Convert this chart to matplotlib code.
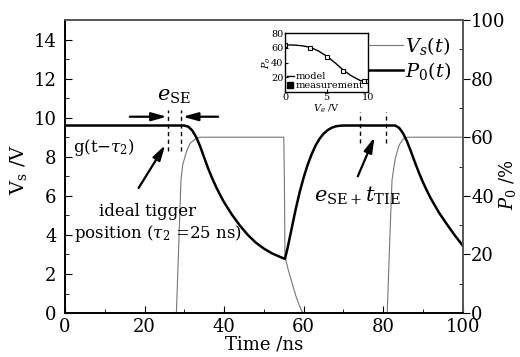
import numpy as np
import matplotlib
matplotlib.use('Agg')
import matplotlib.pyplot as plt

plt.rcParams['font.family'] = ['DejaVu Serif']
plt.rcParams['mathtext.fontset'] = 'dejavuserif'

# Vs(t) trace, volts
t_vs = [0, 28, 28.6, 29.15, 29.6, 30.6, 31.5, 33, 34, 55, 55.15, 55.3, 56, 57, 58, 58.7, 59.5, 60,
        81, 81.6, 82.2, 83, 84, 85, 86, 100]
vs = [0, 0, 3.5, 6.8, 7.6, 8.3, 8.7, 8.95, 9.0, 9.0, 6.8, 2.9, 2.3, 1.6, 0.9, 0.5, 0.1, 0,
      0, 3.5, 6.8, 7.9, 8.6, 8.9, 9.0, 9.0]

# P0(t) trace, percent
t_p0 = [0, 30, 31, 32, 33, 34, 35, 36, 37, 38, 39, 40, 42, 44, 46, 48, 50, 52, 54, 55.3,
        56, 57, 58, 59, 60, 61, 62, 63, 64, 65, 66, 67, 68, 69, 70,
        83, 84, 85, 86, 87, 88, 89, 90, 91, 92, 94, 96, 98, 100]
p0 = [64, 64, 63.6, 62.3, 60, 56.8, 53, 49.3, 46, 43, 40.3, 37.8, 33.5, 29.8, 26.6, 24, 22, 20.4, 19.2, 18.5,
      22.5, 29, 35.5, 41.3, 46.3, 50.6, 54.2, 57.2, 59.5, 61.2, 62.4, 63.2, 63.7, 63.9, 64,
      64, 63.2, 61.3, 58.5, 55, 51.3, 47.8, 44.6, 41.7, 39, 34.3, 30.3, 26.5, 23]

# inset: P_o vs V_e
ve_meas = [0, 3, 5.1, 7, 9.5, 10]
po_meas = [64, 60.5, 48, 29, 14.5, 14.5]
ve_model = [0, 1, 2, 3, 4, 5, 6, 7, 8, 9, 9.5, 10]
po_model = [64, 64, 63, 61, 56, 49, 40, 30, 22, 16, 14.5, 14]

fig = plt.figure(figsize=(5.2, 3.57), dpi=100)
ax = fig.add_axes([0.125, 0.123, 0.765, 0.821])
ax2 = ax.twinx()

ln1, = ax.plot(t_vs, vs, color='#777777', lw=0.8)
ln2, = ax2.plot(t_p0, p0, color='black', lw=1.8)

ax.set_xlim(0, 100)
ax.set_ylim(0, 15)
ax2.set_ylim(0, 100)
ax.set_xticks(np.arange(0, 101, 20))
ax.set_xticks(np.arange(10, 100, 20), minor=True)
ax.set_yticks(np.arange(0, 15, 2))
ax.set_yticks(np.arange(1, 15, 2), minor=True)
ax2.set_yticks(np.arange(0, 101, 20))
ax2.set_yticks(np.arange(10, 100, 20), minor=True)
ax.tick_params(which='both', direction='in', labelsize=13)
ax.tick_params(which='major', length=5)
ax.tick_params(which='minor', length=3)
ax.tick_params(axis='y', pad=6)
ax2.tick_params(which='major', direction='out', length=5, labelsize=13, pad=1)
ax2.tick_params(which='minor', direction='in', length=3)
for a in (ax, ax2):
    for s in a.spines.values():
        s.set_linewidth(1.2)
    a.spines['top'].set_color('#555555')
    a.spines['right'].set_color('#555555')

ax.set_xlabel('Time /ns', fontsize=13, labelpad=0)
ax.set_ylabel('V$_\\mathrm{s}$ /V', fontsize=14)
ax2.set_ylabel('$P_0$ /%', fontsize=13, rotation=90)
ax.yaxis.set_label_coords(-0.09, 0.49)
ax2.yaxis.set_label_coords(1.085, 0.44)

ax2.legend([ln1, ln2], ['$V_s(t)$', '$P_0(t)$'], loc='upper right', bbox_to_anchor=(1.0, 0.99),
           frameon=False, fontsize=14, handlelength=2.7, labelspacing=0.15, handletextpad=0.1,
           borderaxespad=0.2)

# markers around trigger positions
ax.vlines([26, 29.2], 8.3, 10.4, colors='black', linestyles=(0, (3, 2.5)), lw=1.0)
ax.vlines([74.1, 80.8], 8.7, 10.3, colors='black', linestyles=(0, (3, 2.5)), lw=1.0)

arr = dict(arrowstyle='-|>,head_length=0.9,head_width=0.25', color='black', lw=1.6, shrinkA=0, shrinkB=0)
ax.annotate('', xy=(25.6, 10.05), xytext=(16.3, 10.05), arrowprops=arr)
ax.annotate('', xy=(29.6, 10.05), xytext=(38.5, 10.05), arrowprops=arr)
ax.annotate('', xy=(25.2, 8.6), xytext=(18.5, 6.4), arrowprops=arr)
ax.annotate('', xy=(77.8, 9.0), xytext=(73.6, 7.0), arrowprops=arr)

ax.text(27.5, 10.6, '$e_{\\mathrm{SE}}$', fontsize=15, ha='center', va='bottom')
ax.text(2, 8.5, 'g(t\u2212$\\tau_2$)', fontsize=12, ha='left', va='center')
ax.text(20.8, 5.2, 'ideal tigger', fontsize=12, ha='center', va='center')
ax.text(23.5, 4.05, 'position ($\\tau_2$ =25 ns)', fontsize=12, ha='center', va='center')
ax.text(73.5, 6.0, '$e_{\\mathrm{SE+}}t_{\\mathrm{TIE}}$', fontsize=15, ha='center', va='center')

# inset
ins = fig.add_axes([0.548, 0.742, 0.160, 0.165])
ins.plot(ve_model, po_model, color='black', lw=1.0, label='model')
ins.plot(ve_meas, po_meas, ls='none', marker='s', ms=3, mfc='white', mec='black', mew=0.8)
ins.plot([], [], ls='none', marker='s', ms=4, color='black', label='measurement')
ins.set_xlim(0, 10)
ins.set_ylim(0, 80)
ins.set_xticks([0, 5, 10])
ins.set_yticks([20, 40, 60, 80])
ins.tick_params(direction='in', labelsize=7, length=2, pad=1)
for s in ins.spines.values():
    s.set_linewidth(1.0)
ins.set_xlabel('$V_e$ /V', fontsize=7, labelpad=0)
ins.set_ylabel('$P_o$', fontsize=7, labelpad=-1)
ins.legend(loc='lower left', frameon=False, fontsize=7, handlelength=0.7, handletextpad=0.2,
           labelspacing=0.0, borderaxespad=0.1, borderpad=0.1)

fig.savefig('out.png', dpi=100)
